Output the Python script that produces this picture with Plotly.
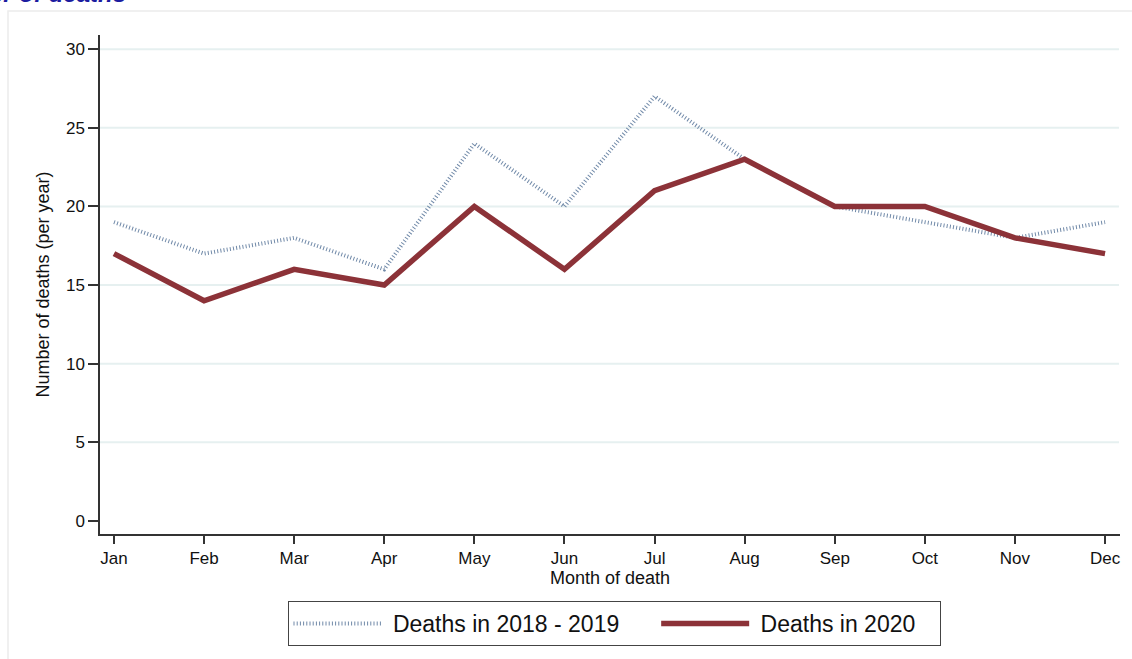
import plotly.graph_objects as go

months = ["Jan", "Feb", "Mar", "Apr", "May", "Jun", "Jul", "Aug", "Sep", "Oct", "Nov", "Dec"]
deaths_2018_2019 = [19, 17, 18, 16, 24, 20, 27, 23, 20, 19, 18, 19]
deaths_2020 = [17, 14, 16, 15, 20, 16, 21, 23, 20, 20, 18, 17]
y_ticks = [0, 5, 10, 15, 20, 25, 30]

W, H = 1132, 659
L, R, T, B = 100, 12, 35, 125
pw, ph = W - L - R, H - T - B

font = "Liberation Sans, Arial, sans-serif"
xs = list(range(len(months)))
NB = "\u00a0"

fig = go.Figure()
fig.add_trace(go.Scatter(
    x=xs, y=deaths_2018_2019, mode="lines", name=NB + "Deaths in 2018 - 2019" + NB * 5,
    line=dict(color="#7089a8", width=4, dash="1px,2.2px"),
))
fig.add_trace(go.Scatter(
    x=xs, y=deaths_2020, mode="lines", name=NB + "Deaths in 2020" + NB * 3,
    line=dict(color="#8c3238", width=5.5),
))

shapes = []
for v in y_ticks[1:]:
    shapes.append(dict(type="line", xref="paper", yref="y", x0=0, x1=0.999, y0=v, y1=v,
                       line=dict(color="#e6f0f0", width=2), layer="below"))
# faint outer frame
shapes.append(dict(type="rect", xref="paper", yref="paper",
                   x0=(8 - L) / pw, x1=(W + 20 - L) / pw,
                   y0=-(H + 20 - T - ph) / ph, y1=1 + (T - 11) / ph,
                   line=dict(color="#ececec", width=1.5), layer="below"))

fig.update_layout(
    width=W, height=H,
    margin=dict(l=L, r=R, t=T, b=B, autoexpand=False),
    paper_bgcolor="white", plot_bgcolor="white",
    font=dict(family=font, color="#111111", size=17),
    shapes=shapes,
    showlegend=True,
    legend=dict(
        orientation="h", xanchor="center", yanchor="top",
        x=(614 - L) / pw, y=-(601 - T - ph) / ph,
        bordercolor="#444444", borderwidth=1, bgcolor="white",
        font=dict(size=23, family=font, color="#111111"),
        itemwidth=88, tracegroupgap=0,
    ),
    xaxis=dict(
        range=[-0.155, 11.166], tickvals=xs, ticktext=months,
        showgrid=False, zeroline=False,
        showline=True, linecolor="#333333", linewidth=1.5,
        ticks="outside", ticklen=8, tickwidth=1.5, tickcolor="#333333",
        tickfont=dict(size=17),
        title=dict(text="Month of death", font=dict(size=18), standoff=2),
    ),
    yaxis=dict(
        range=[-0.83, 30.9], tickvals=y_ticks,
        showgrid=False, zeroline=False,
        showline=True, linecolor="#333333", linewidth=1.5,
        ticks="outside", ticklen=10, tickwidth=1.5, tickcolor="#333333",
        tickfont=dict(size=17),
        title=dict(text="Number of deaths (per year)", font=dict(size=18), standoff=12),
    ),
    annotations=[dict(
        text="<b><i>Number of deaths</i></b>", xref="paper", yref="paper",
        x=(128 - L) / pw, y=1 + (T - 9) / ph, xanchor="right", yanchor="bottom",
        showarrow=False, font=dict(size=24, color="#1c1ca0", family=font),
    )],
)

fig.write_html("out.html")
